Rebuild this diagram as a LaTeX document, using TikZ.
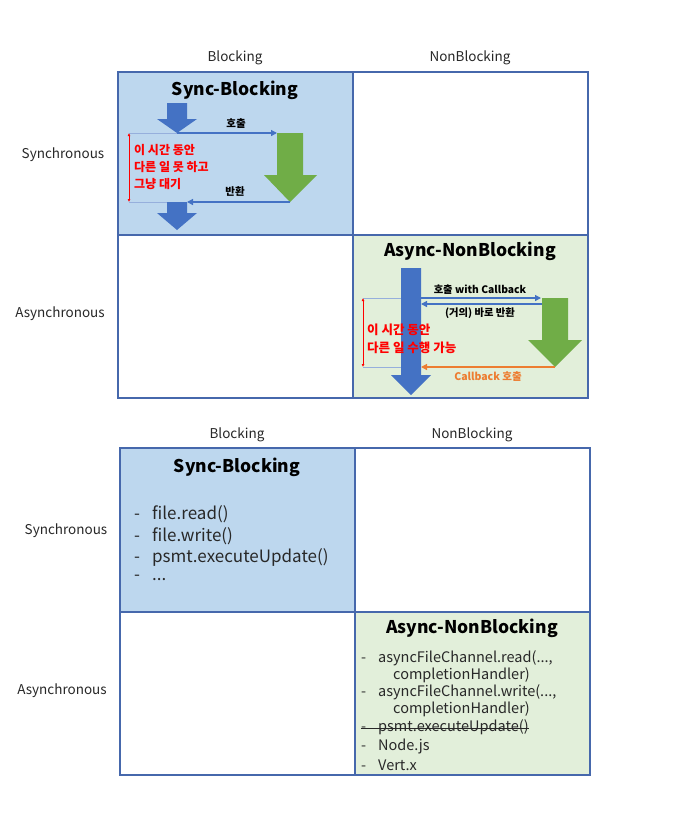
\documentclass[tikz,border=0pt]{standalone}
\usepackage{fontspec}
\setmainfont{Noto Sans CJK KR}
\usetikzlibrary{arrows.meta}
\definecolor{cellblue}{RGB}{189,215,238}
\definecolor{cellgreen}{RGB}{226,239,218}
\definecolor{gridline}{RGB}{70,104,172}
\definecolor{arrblue}{RGB}{68,114,196}
\definecolor{arrgreen}{RGB}{112,173,71}
\definecolor{arrorange}{RGB}{237,125,49}
\definecolor{guide}{RGB}{150,175,220}
\definecolor{txt}{RGB}{40,40,40}
\begin{document}
\begin{tikzpicture}[x=1pt,y=-1pt,
  cell/.style={draw=gridline,line width=1.2pt,inner sep=0pt,outer sep=0pt,minimum width=235pt,minimum height=163pt},
  axis/.style={font=\fontsize{13.5}{15}\selectfont,text=txt,inner sep=0pt},
  title/.style={font=\fontsize{17.5}{19}\selectfont\bfseries,text=black,inner sep=0pt},
  small/.style={font=\fontsize{10}{12}\selectfont\bfseries,text=black,inner sep=0pt},
  redtxt/.style={font=\bfseries,text=red,align=left,inner sep=0pt,anchor=west},
  item/.style={font=\fontsize{17}{19}\selectfont,text=txt,inner sep=0pt,anchor=west},
  itemb/.style={font=\fontsize{14.5}{16}\selectfont,text=txt,inner sep=0pt,anchor=west},
  conn/.style={line width=1.3pt,-{Triangle[length=6pt,width=6pt]}},
  guideline/.style={draw=guide,line width=0.5pt},
  span/.style={red,line width=0.6pt,{Latex[length=3pt,width=3pt]}-{Latex[length=3pt,width=3pt]}}
]
\useasboundingbox (0,0) rectangle (696,830);
\fill[white] (0,0) rectangle (696,830);

% ---------- top grid ----------
\node[cell,fill=cellblue]  (tl) at (235.5,153.5) {};
\node[cell,fill=white]     (tr) at (470.5,153.5) {};
\node[cell,fill=white]     (bl) at (235.5,316.5) {};
\node[cell,fill=cellgreen] (br) at (470.5,316.5) {};

\node[axis] (hb1) at (235,58) {Blocking};
\node[axis] (hn1) at (470,58) {NonBlocking};
\node[axis] (vs1) at (63,155) {Synchronous};
\node[axis] (va1) at (60,314) {Asynchronous};

\node[title] (t1) at (235,90) {Sync-Blocking};
\node[title] (t2) at (470,251) {Async-NonBlocking};

% sync-blocking arrows
\fill[arrblue] (167,103) -- (187,103) -- (187,119) -- (197,119) -- (177,133) -- (157,119) -- (167,119) -- cycle;
\fill[arrgreen] (277,133) -- (303,133) -- (303,175) -- (317,175) -- (290,202) -- (264,175) -- (277,175) -- cycle;
\fill[arrblue] (167,202) -- (187,202) -- (187,213) -- (197,213) -- (177,230) -- (157,213) -- (167,213) -- cycle;

\coordinate (c1s) at (177,133);
\coordinate (c1e) at (277,133);
\coordinate (r1s) at (290,202);
\coordinate (r1e) at (187,202);
\coordinate (g1a) at (129,133);
\coordinate (g1b) at (129,202);
\coordinate (g1c) at (167,202);
\draw[guideline] (g1a) -- (c1s);
\draw[guideline] (g1b) -- (g1c);
\draw[conn,draw=arrblue] (c1s) -- (c1e);
\draw[conn,draw=arrblue] (r1s) -- (r1e);
\draw[span] (g1a) -- (g1b);
\node[small,font=\fontsize{10.5}{12}\selectfont\bfseries] (l1) at (236,124) {호출};
\node[small,font=\fontsize{10.5}{12}\selectfont\bfseries] (l2) at (235,191) {반환};
\node[redtxt,font=\fontsize{12}{17}\selectfont\bfseries] (rt1) at (134,167) {이 시간 동안\\다른 일 못 하고\\그냥 대기};

% async-nonblocking arrows
\fill[arrblue] (401,268) -- (421,268) -- (421,375) -- (431,375) -- (411,395) -- (391,375) -- (401,375) -- cycle;
\fill[arrgreen] (542,298) -- (568,298) -- (568,340) -- (582,340) -- (555,367) -- (528,340) -- (542,340) -- cycle;

\coordinate (c2s) at (421,298);
\coordinate (c2e) at (541,298);
\coordinate (r2s) at (542,304);
\coordinate (r2e) at (421,304);
\coordinate (o2s) at (555,367);
\coordinate (o2e) at (421,367);
\coordinate (g2a) at (363,298);
\coordinate (g2b) at (363,367);
\coordinate (g2c) at (401,298);
\coordinate (g2d) at (401,367);
\draw[guideline] (g2a) -- (g2c);
\draw[guideline] (g2b) -- (g2d);
\draw[conn,draw=arrblue] (c2s) -- (c2e);
\draw[conn,draw=arrblue] (r2s) -- (r2e);
\draw[conn,draw=arrorange] (o2s) -- (o2e);
\draw[span] (g2a) -- (g2b);
\node[small,font=\fontsize{10.3}{12}\selectfont\bfseries] (l3) at (480,290) {호출 with Callback};
\node[small,font=\fontsize{10.3}{12}\selectfont\bfseries] (l4) at (480,313) {(거의) 바로 반환};
\node[small,font=\fontsize{10.5}{12}\selectfont\bfseries,text=arrorange] (l5) at (488,377) {Callback 호출};
\node[redtxt,font=\fontsize{12.5}{18}\selectfont\bfseries] (rt2) at (367,339) {이 시간 동안\\다른 일 수행 가능};

% ---------- bottom grid ----------
\node[cell,fill=cellblue,minimum height=164pt]  (tl2) at (237.5,530) {};
\node[cell,fill=white,minimum height=164pt]     (tr2) at (472.5,530) {};
\node[cell,fill=white,minimum height=163pt]     (bl2) at (237.5,693.5) {};
\node[cell,fill=cellgreen,minimum height=163pt] (br2) at (472.5,693.5) {};

\node[axis] (hb2) at (237,435) {Blocking};
\node[axis] (hn2) at (472,435) {NonBlocking};
\node[axis] (vs2) at (66,531) {Synchronous};
\node[axis] (va2) at (62,691) {Asynchronous};

\node[title] (t3) at (237,467) {Sync-Blocking};
\node[title] (t4) at (472,628) {Async-NonBlocking};

\node[item] (i1) at (134,514) {\makebox[18pt][l]{-}file.read()};
\node[item] (i2) at (134,536) {\makebox[18pt][l]{-}file.write()};
\node[item] (i3) at (134,557) {\makebox[18pt][l]{-}psmt.executeUpdate()};
\node[item] (i4) at (134,578) {\makebox[18pt][l]{-}...};

\node[itemb] (j1) at (361,658) {\makebox[17pt][l]{-}asyncFileChannel.read(...,};
\node[itemb] (j2) at (393,675) {completionHandler)};
\node[itemb] (j3) at (361,692) {\makebox[17pt][l]{-}asyncFileChannel.write(...,};
\node[itemb] (j4) at (393,709) {completionHandler)};
\node[itemb] (j5) at (361,727) {\makebox[17pt][l]{-}psmt.executeUpdate()};
\node[itemb] (j6) at (361,746) {\makebox[17pt][l]{-}Node.js};
\node[itemb] (j7) at (361,765) {\makebox[17pt][l]{-}Vert.x};
\draw[txt,line width=0.8pt] ([yshift=-1pt]j5.west) -- ([yshift=-1pt]j5.east);
\end{tikzpicture}
\end{document}
